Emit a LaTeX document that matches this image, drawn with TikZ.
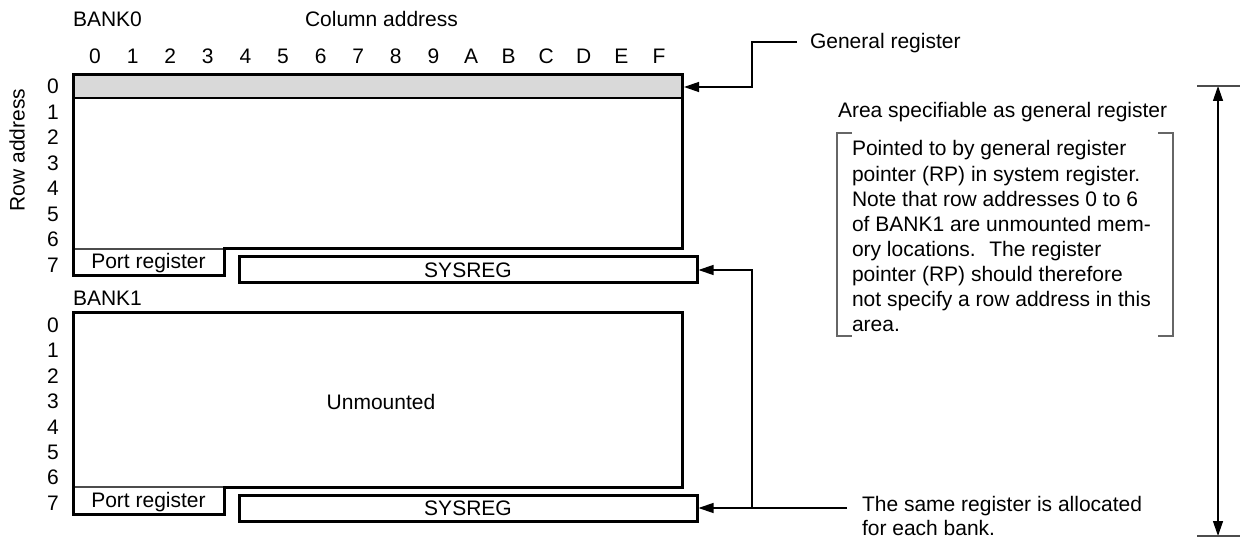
\documentclass[tikz,border=0pt]{standalone}
\usepackage{fontspec}
\setmainfont{Liberation Sans}
\usetikzlibrary{arrows.meta}
\begin{document}
\begin{tikzpicture}[x=1pt,y=-1pt,
  txt/.style={inner sep=0pt, outer sep=0pt, font=\fontsize{21}{25}\selectfont},
  thickline/.style={line width=3pt, line join=miter},
  conn/.style={line width=1.3pt, -{Triangle[length=15pt,width=10pt]}},
  plainline/.style={line width=1.3pt},
  brk/.style={line width=1.5pt, draw=black!60},
  regbox/.style={draw, line width=3pt, minimum width=458pt, minimum height=26pt, inner sep=0pt, font=\fontsize{21}{25}\selectfont},
]
\useasboundingbox (0,0) rectangle (1240,537);

% ---------- headings ----------
\node[txt, anchor=base west] (bank0) at (73,26.5) {BANK0};
\node[txt, anchor=base west] (coladdr) at (305,26.5) {Column address};
\node[txt, rotate=90] (rowaddr) at (17,150) {Row address};
\foreach \c [count=\i from 0] in {0,1,2,3,4,5,6,7,8,9,A,B,C,D,E,F}
  \node[txt, anchor=base] (col\i) at (95+37.6*\i,64) {\c};

% ---------- BANK0 ----------
\fill[black!15] (73,75) rectangle (682,98);
\coordinate (genreg) at (684,87);
\draw[line width=2pt] (73,98) -- (682,98);
\draw[line width=1.5pt, black!70] (73,249) -- (224,249);
\draw[thickline] (73,75) -- (682,75) -- (682,249) -- (224,249) -- (224,276) -- (73,276) -- cycle;
\foreach \r in {0,...,7}
  \node[txt, anchor=base] (ra\r) at (53,94+25.5*\r) {\r};
\node[txt, anchor=base] (port0) at (148.5,268.5) {Port register};
\node[regbox] (sys0) at (468,270) {SYSREG};

% ---------- BANK1 ----------
\node[txt, anchor=base west] (bank1) at (73,305.5) {BANK1};
\draw[line width=1.5pt, black!70] (73,487) -- (224,487);
\draw[thickline] (73,313) -- (682,313) -- (682,487) -- (224,487) -- (224,514) -- (73,514) -- cycle;
\foreach \r in {0,...,7}
  \node[txt, anchor=base] (rb\r) at (53,332.5+25.4*\r) {\r};
\node[txt, anchor=base] (unm) at (381,409.5) {Unmounted};
\node[txt, anchor=base] (port1) at (148.5,507) {Port register};
\node[regbox] (sys1) at (468,508) {SYSREG};

% ---------- general register callout ----------
\node[txt, anchor=base west] (gentxt) at (810,49) {General register};
\coordinate (genstart) at (797,42);
\draw[conn] (genstart) -- (752,42) -- (752,87) -- (genreg);

% ---------- SYSREG callout ----------
\coordinate (samestart) at (847,508);
\coordinate (junc) at (752,508);
\draw[conn] (samestart) -- (sys1.east);
\draw[conn] (junc) |- (sys0.east);
\node[txt, anchor=base west] (same1) at (862,511) {The same register is allocated};
\node[txt, anchor=base west] (same2) at (862,535) {for each bank.};

% ---------- area note ----------
\node[txt, anchor=base west] (area) at (838,118) {Area specifiable as general register};
\draw[brk] (852,133) -- (837,133) -- (837,336) -- (852,336);
\draw[brk] (1158,133) -- (1173,133) -- (1173,336) -- (1158,336);
\foreach \t [count=\i from 0] in {%
  Pointed to by general register,
  pointer (RP) in system register.,
  Note that row addresses 0 to 6,
  of BANK1 are unmounted mem-,
  ory locations.~ The register,
  pointer (RP) should therefore,
  not specify a row address in this,
  area.}
  \node[txt, anchor=base west] (note\i) at (852,156+25.1*\i) {\t};

% ---------- dimension arrow ----------
\coordinate (dtop) at (1218,86);
\coordinate (dbot) at (1218,536);
\draw[line width=1.3pt, {Triangle[length=15pt,width=10pt]}-{Triangle[length=15pt,width=10pt]}] (dtop) -- (dbot);
\draw[plainline, black!70] (1197,86) -- (1240,86);
\draw[plainline, black!70] (1197,536) -- (1240,536);
\end{tikzpicture}
\end{document}
